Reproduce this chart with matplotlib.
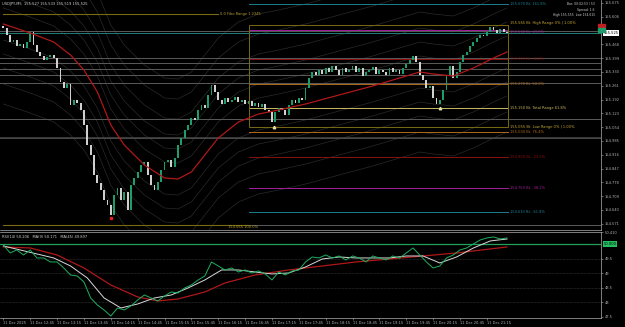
import matplotlib
matplotlib.use("Agg")
import matplotlib.pyplot as plt
from matplotlib.patches import Rectangle

# ---- data ----
open_first = 155.560
closes = [
    155.550, 155.515, 155.480, 155.490, 155.460, 155.470, 155.450, 155.480, 155.530, 155.465,
    155.430, 155.410, 155.390, 155.405, 155.415, 155.400, 155.350, 155.280, 155.250, 155.270,
    155.165, 155.190, 155.175, 155.140, 155.065, 154.965, 154.915, 154.815, 154.775, 154.740,
    154.690, 154.665, 154.615, 154.715, 154.750, 154.690, 154.730, 154.640, 154.765, 154.800,
    154.830, 154.865, 154.880, 154.815, 154.765, 154.740, 154.780, 154.840, 154.880, 154.890,
    154.855, 154.900, 154.965, 155.000, 155.040, 155.065, 155.100, 155.090, 155.140, 155.165,
    155.150, 155.215, 155.265, 155.230, 155.190, 155.170, 155.200, 155.180, 155.190, 155.205,
    155.180, 155.190, 155.170, 155.185, 155.160, 155.175, 155.155, 155.170, 155.140, 155.130,
    155.080, 155.130, 155.150, 155.140, 155.115, 155.165, 155.190, 155.175, 155.200, 155.190,
    155.250, 155.300, 155.330, 155.315, 155.340, 155.320, 155.350, 155.330, 155.360, 155.340,
    155.315, 155.350, 155.330, 155.340, 155.360, 155.330, 155.350, 155.310, 155.330, 155.340,
    155.355, 155.320, 155.340, 155.330, 155.315, 155.350, 155.330, 155.340, 155.320, 155.350,
    155.370, 155.390, 155.410, 155.380, 155.315, 155.290, 155.250, 155.260, 155.200, 155.170,
    155.190, 155.240, 155.315, 155.360, 155.300, 155.330, 155.380, 155.415, 155.430, 155.460,
    155.480, 155.500, 155.515, 155.510, 155.530, 155.555, 155.540, 155.525, 155.545, 155.530,
    155.525,
]

ma_bars = [0, 8, 15, 20, 24, 28, 32, 36, 42, 48, 52, 56, 60, 64, 70, 76, 82, 90, 100, 110,
           118, 124, 128, 134, 140, 146, 150]
ma_vals = [155.570, 155.525, 155.480, 155.415, 155.340, 155.230, 155.065, 154.965, 154.865,
           154.800, 154.795, 154.830, 154.915, 155.000, 155.080, 155.120, 155.140, 155.170,
           155.215, 155.260, 155.300, 155.330, 155.320, 155.310, 155.350, 155.400, 155.430]
band_offsets = [-0.40, -0.30, -0.22, -0.15, -0.08, 0.08, 0.15, 0.22, 0.30, 0.40, 0.50]

# horizontal levels: (price, colour, from bar, to bar, label)
gray_levels = [155.535, 155.400, 155.375, 155.345, 155.315, 155.275, 155.095, 155.000]
fib_levels = [
    (155.670, "#1d7f90", 73.2, 150.3, "155.670 Bt. 161.8%"),
    (155.540, "#a0209a", 73.2, 150.3, "155.540 Bt. 23.6%"),
    (155.395, "#8b1010", 73.2, 150.3, "155.395 Bt. 38.2%"),
    (155.270, "#b06a18", 73.2, 150.3, "155.270 Bt. 50.0%"),
    (155.150, "#c8b860", 73.2, 150.3, "155.150 Bt. Total Range 61.8%"),
    (155.030, "#b06a18", 73.2, 150.3, "155.030 Bt. 76.4%"),
    (154.905, "#8b1010", 73.2, 150.3, "154.905 Bt. -23.6%"),
    (154.750, "#a0209a", 73.2, 150.3, "154.750 Bt. -38.2%"),
    (154.630, "#1d7f90", 73.2, 150.3, "154.630 Bt. -61.8%"),
]
box_top = 155.565
box_bottom = 155.055
range_high = 155.620
range_low = 154.565
bid = 155.525

price_ticks = [155.675, 155.606, 155.468, 155.399, 155.330, 155.261, 155.192,
               155.123, 155.054, 154.985, 154.916, 154.847, 154.778, 154.709, 154.640, 154.571]

# indicator panel
fast_bars = list(range(0, 151, 2))
fast_vals = [49.966, 49.692, 49.795, 49.623, 49.795, 49.521, 49.521, 49.384, 49.384, 49.178,
             48.938, 48.904, 48.699, 48.151, 47.911, 47.740, 47.534, 47.808, 47.740, 47.877,
             48.082, 48.253, 48.151, 48.048, 48.219, 48.356, 48.322, 48.493, 48.596, 48.767,
             48.904, 49.384, 49.247, 49.110, 49.178, 49.041, 49.110, 49.007, 49.075, 48.973,
             48.767, 49.041, 48.938, 49.075, 49.110, 49.384, 49.555, 49.521, 49.623, 49.521,
             49.589, 49.452, 49.589, 49.521, 49.384, 49.589, 49.521, 49.452, 49.589, 49.521,
             49.692, 49.863, 49.623, 49.384, 49.178, 49.247, 49.521, 49.623, 49.795, 49.863,
             50.000, 50.137, 50.206, 50.240, 50.171, 50.206]
signal_bars = list(range(0, 151, 5))
signal_vals = [49.932, 49.795, 49.658, 49.521, 49.247, 48.836, 48.151, 47.808, 47.945, 48.151,
               48.253, 48.493, 48.767, 49.110, 49.110, 49.041, 48.973, 49.007, 49.212, 49.486,
               49.555, 49.521, 49.521, 49.521, 49.589, 49.589, 49.349, 49.555, 49.863, 50.103,
               50.171]
slow_bars = [0, 8, 16, 24, 32, 40, 46, 52, 60, 66, 75, 85, 95, 105, 115, 125, 135, 145, 150]
slow_vals = [49.897, 49.863, 49.623, 49.178, 48.596, 48.185, 48.048, 48.116, 48.356, 48.664,
             48.938, 49.110, 49.247, 49.384, 49.486, 49.589, 49.692, 49.829, 49.897]
ind_ticks = [49.5, 49.0, 48.5, 48.0]
ind_level = 50.0

time_ticks = list(range(0, 150, 8))
time_labels = ["11 Dec 2025", "11 Dec 12:45", "11 Dec 13:15", "11 Dec 13:45", "11 Dec 14:15",
               "11 Dec 14:45", "11 Dec 15:15", "11 Dec 15:45", "11 Dec 16:15", "11 Dec 16:45",
               "11 Dec 17:15", "11 Dec 17:45", "11 Dec 18:15", "11 Dec 18:45", "11 Dec 19:15",
               "11 Dec 19:45", "11 Dec 20:15", "11 Dec 20:45", "11 Dec 21:15"]

FS = 2.6
AXC = "#b0b0b0"
XMAX = 178

fig = plt.figure(figsize=(6.25, 3.27), dpi=100, facecolor="black")
ax = fig.add_axes([0, 1 - 230 / 327, 601 / 625, 230 / 327], facecolor="black")
ax2 = fig.add_axes([0, 1 - 318 / 327, 601 / 625, 86 / 327], facecolor="black")

# envelope curves around the moving average
for off in band_offsets:
    ax.plot(ma_bars, [v + off for v in ma_vals], color="#2a2a2a", lw=0.5, zorder=1)

for p in gray_levels:
    ax.axhline(p, color="#5a5a5a", lw=0.7, zorder=2)
ax.axhline(155.000, color="#444444", lw=1.2, zorder=2)
ax.axhline(bid, color="#1d7f78", lw=0.7, zorder=2)

for p, c, b0, b1, lab in fib_levels:
    ax.plot([b0, b1], [p, p], color=c, lw=0.7, zorder=2)
    va = "top" if p == 155.540 else "center"
    ax.text(b1 + 0.5, p, lab, color=c, fontsize=FS, va=va, ha="left")

ax.add_patch(Rectangle((73.2, box_bottom), 150.3 - 73.2, box_top - box_bottom,
                       fill=False, edgecolor="#7a6a12", lw=0.7, zorder=2))
ax.text(150.8, box_top, "155.565 Bt. High Range 0% | 1.00%", color="#c8a830",
        fontsize=FS, va="bottom")
ax.text(150.8, box_bottom, "155.055 Bt. Low Range 0% | 1.00%", color="#c8a830",
        fontsize=FS, va="center")
ax.plot([0, 64], [range_high, range_high], color="#7a6a12", lw=0.8, zorder=2)
ax.text(64.5, range_high, "0.0 Fibo Range 1.2345", color="#b8a030", fontsize=FS, va="center")
ax.plot([0, 73.2], [range_low, range_low], color="#7a6a12", lw=0.8, zorder=2)
ax.plot([73.2, XMAX], [range_low, range_low], color="#5a5a5a", lw=0.7, zorder=2)
ax.text(67, range_low - 0.008, "154.565 100.0%", color="#b8a030", fontsize=FS, va="center")

# candles
opens = [open_first] + closes[:-1]
for i, (o, c) in enumerate(zip(opens, closes)):
    col = "#1e9c6c" if c >= o else "#d0d0d0"
    lo, hi = min(o, c), max(o, c)
    ax.bar(i, max(hi - lo, 0.004), bottom=lo, width=0.55, color=col, lw=0, zorder=4)

ax.plot(ma_bars, ma_vals, color="#b01818", lw=0.9, zorder=5)

ax.plot([32], [154.600], marker="s", ms=1.6, color="#e02020", zorder=6)
ax.plot([80.6], [155.055], marker="^", ms=1.8, color="#e8e0a0", zorder=6)
ax.plot([130], [155.150], marker="^", ms=1.8, color="#e8e0a0", zorder=6)

ax.set_xlim(-1, XMAX)
ax.set_ylim(154.540, 155.690)
ax.yaxis.tick_right()
ax.set_yticks(price_ticks)
ax.set_yticklabels([f"{t:.3f}" for t in price_ticks])
ax.set_xticks([])
ax.tick_params(axis="y", colors=AXC, labelsize=FS, length=1.5, width=0.4, pad=1)
for s in ["top", "left"]:
    ax.spines[s].set_visible(False)
for s in ["right", "bottom"]:
    ax.spines[s].set_color(AXC)
    ax.spines[s].set_linewidth(0.5)

ax.annotate(f"{bid:.3f}", xy=(1.0, bid), xycoords=("axes fraction", "data"),
            xytext=(2, 0), textcoords="offset points", fontsize=FS, va="center",
            color="black", bbox=dict(boxstyle="square,pad=0.15", fc="white", ec="none"))
ax.add_patch(Rectangle((0.995, 0.882), 0.012, 0.012, transform=ax.transAxes,
                       color="#c02020", clip_on=False, zorder=7))
ax.add_patch(Rectangle((0.995, 0.862), 0.012, 0.016, transform=ax.transAxes,
                       color="#1e9c6c", clip_on=False, zorder=7))

ax.text(0.004, 0.992, "USDJPY,M5  155.527 155.533 155.519 155.525", transform=ax.transAxes,
        color="#d0d0d0", fontsize=FS, va="top")
ax.text(0.99, 0.99, "Bar: 00:02:53 / 53\nSpread: 1.6\nHigh 155.555  Low 154.615",
        transform=ax.transAxes, color="#d0d0d0", fontsize=2.2, va="top", ha="right",
        linespacing=1.4)

# indicator panel
for t in ind_ticks:
    ax2.axhline(t, color="#3a3a3a", lw=0.5, ls=(0, (1, 1)))
ax2.axhline(ind_level, color="#22a05a", lw=0.9)
ax2.plot(slow_bars, slow_vals, color="#b01818", lw=0.9)
ax2.plot(signal_bars, signal_vals, color="#d8d8d8", lw=0.7)
ax2.plot(fast_bars, fast_vals, color="#1fb060", lw=0.7)
ax2.set_xlim(-1, XMAX)
ax2.set_ylim(47.465, 50.41)
ax2.yaxis.tick_right()
ax2.set_yticks([50.41] + ind_ticks + [47.5])
ax2.set_yticklabels(["50.410", "49.5", "49", "48.5", "48", "47.5"])
ax2.tick_params(axis="y", colors=AXC, labelsize=FS, length=1.5, width=0.4, pad=1)
ax2.set_xticks(time_ticks)
ax2.set_xticklabels(time_labels)
ax2.tick_params(axis="x", colors=AXC, labelsize=FS, length=1.5, width=0.4, pad=1)
for lab in ax2.get_xticklabels():
    lab.set_horizontalalignment("left")
ax2.spines["left"].set_visible(False)
for s in ["right", "bottom", "top"]:
    ax2.spines[s].set_color(AXC)
    ax2.spines[s].set_linewidth(0.5)
ax2.annotate(f"{ind_level:.3f}", xy=(1.0, ind_level), xycoords=("axes fraction", "data"),
             xytext=(2, 0), textcoords="offset points", fontsize=FS, va="center",
             color="black", bbox=dict(boxstyle="square,pad=0.15", fc="#22c060", ec="none"))
ax2.text(0.004, 0.97, "RSI(14) 50.206   MA(9) 50.171   MA(45) 49.897",
         transform=ax2.transAxes, color="#d0d0d0", fontsize=FS, va="top")

fig.savefig("out.png", dpi=100, facecolor="black")
